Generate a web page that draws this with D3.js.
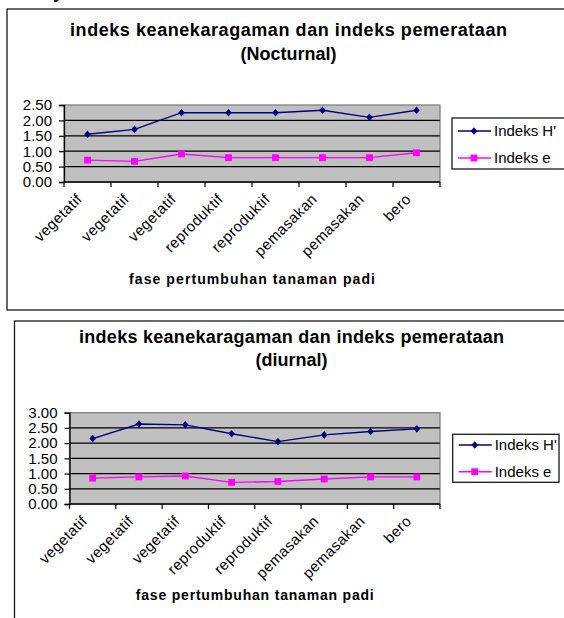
<!DOCTYPE html>
<html><head><meta charset="utf-8">
<script src="https://cdn.jsdelivr.net/npm/d3@7/dist/d3.min.js"></script>
<style>
html,body{margin:0;padding:0;background:#fff;}
svg{display:block;}
text{font-family:Arial,"Liberation Sans",sans-serif;}
</style></head>
<body>
<svg id="c" width="564" height="618"></svg>
<script>
const categories = ["vegetatif","vegetatif","vegetatif","reproduktif","reproduktif","pemasakan","pemasakan","bero"];
const seriesNames = ["Indeks H'", "Indeks e"];
const nocturnalH = [1.55,1.71,2.25,2.25,2.25,2.33,2.10,2.33];
const nocturnalE = [0.71,0.67,0.91,0.79,0.79,0.79,0.79,0.95];
const diurnalH = [2.15,2.63,2.60,2.31,2.05,2.27,2.38,2.47];
const diurnalE = [0.85,0.89,0.92,0.71,0.74,0.82,0.89,0.89];
const nocturnalTicks = [0,0.5,1,1.5,2,2.5];
const diurnalTicks = [0,0.5,1,1.5,2,2.5,3];
const titleLine1 = "indeks keanekaragaman dan indeks pemerataan";
const titleNocturnal = "(Nocturnal)";
const titleDiurnal = "(diurnal)";
const xAxisTitle = "fase pertumbuhan tanaman padi";

const colors = ["#000080", "#ff00ff"];
const svg = d3.select("#c");

// cropped glyph of surrounding document text
svg.append("text").attr("x", 53).attr("y", -2).attr("font-size", 18).attr("font-weight", "bold").text("y");

function drawChart(o) {
  const g = svg.append("g");
  g.append("rect").attr("x", o.box[0]).attr("y", o.box[1]).attr("width", o.box[2]).attr("height", o.box[3])
    .attr("fill", "#fff").attr("stroke", "#1a1a1a").attr("stroke-width", 1.3);

  g.append("text").attr("x", o.titleX).attr("y", o.titleY1).attr("text-anchor", "middle")
    .attr("font-size", 18).attr("font-weight", "bold").attr("textLength", o.titleW).attr("lengthAdjust", "spacing")
    .text(titleLine1);
  g.append("text").attr("x", o.titleX).attr("y", o.titleY2).attr("text-anchor", "middle")
    .attr("font-size", 18).attr("font-weight", "bold").text(o.title2);

  const x = d3.scaleBand().domain(d3.range(categories.length)).range([o.left, o.right]).padding(0);
  const y = d3.scaleLinear().domain([0, d3.max(o.ticks)]).range([o.bottom, o.top]);
  const cx = i => x(i) + x.bandwidth() / 2;

  g.append("rect").attr("x", o.left).attr("y", o.top).attr("width", o.right - o.left).attr("height", o.bottom - o.top)
    .attr("fill", "#c0c0c0").attr("stroke", "#808080").attr("stroke-width", 1.3);

  // gridlines
  g.selectAll(".grid").data(o.ticks.filter(t => t > 0 && t < d3.max(o.ticks))).join("line")
    .attr("x1", o.left).attr("x2", o.right).attr("y1", d => y(d)).attr("y2", d => y(d))
    .attr("stroke", "#000").attr("stroke-width", 1.2);

  // y axis
  const ya = g.append("g").attr("transform", `translate(${o.left},0)`)
    .call(d3.axisLeft(y).tickValues(o.ticks).tickFormat(d3.format(".2f")).tickSize(5).tickPadding(7));
  ya.select(".domain").attr("stroke", "#000").attr("stroke-width", 1.3);
  ya.selectAll(".tick line").attr("stroke", "#000").attr("stroke-width", 1.2);
  ya.selectAll(".tick text").attr("font-size", 15).attr("fill", "#000")
    .attr("font-family", 'Arial,"Liberation Sans",sans-serif');

  // x axis
  const xa = g.append("g").attr("transform", `translate(0,${o.bottom})`);
  xa.append("line").attr("x1", o.left).attr("x2", o.right).attr("stroke", "#000").attr("stroke-width", 1.4);
  const bounds = d3.range(categories.length).map(i => x(i)).concat([o.right]);
  xa.selectAll(".xt").data(bounds).join("line").attr("x1", d => d).attr("x2", d => d)
    .attr("y1", 0).attr("y2", 5).attr("stroke", "#000").attr("stroke-width", 1.2);
  xa.selectAll(".xl").data(categories).join("text")
    .attr("transform", (d, i) => `translate(${cx(i) - 4.5},18) rotate(-45)`)
    .attr("text-anchor", "end").attr("font-size", 15).attr("letter-spacing", 0.4).text(d => d);

  g.append("text").attr("x", (o.left + o.right) / 2).attr("y", o.axisTitleY).attr("text-anchor", "middle")
    .attr("font-size", 14).attr("font-weight", "bold").attr("textLength", o.axisTitleW).attr("lengthAdjust", "spacing")
    .text(xAxisTitle);

  // series
  const series = [o.h, o.e];
  const line = d3.line().x((d, i) => cx(i)).y(d => y(d));
  series.forEach((vals, si) => {
    g.append("path").datum(vals).attr("d", line).attr("fill", "none")
      .attr("stroke", colors[si]).attr("stroke-width", 1.4);
  });
  g.selectAll(".dh").data(o.h).join("path")
    .attr("transform", (d, i) => `translate(${cx(i)},${y(d)})`)
    .attr("d", "M0,-3.8L3.3,0L0,3.8L-3.3,0Z").attr("fill", colors[0]);
  g.selectAll(".de").data(o.e).join("rect")
    .attr("x", (d, i) => cx(i) - 3.4).attr("y", d => y(d) - 3.4).attr("width", 6.8).attr("height", 6.8)
    .attr("fill", colors[1]);

  // legend
  const L = o.legend;
  g.append("rect").attr("x", L.x).attr("y", L.y).attr("width", L.w).attr("height", L.h)
    .attr("fill", "#fff").attr("stroke", "#1a1a1a").attr("stroke-width", 1.3);
  seriesNames.forEach((name, si) => {
    const ry = L.rows[si];
    g.append("line").attr("x1", L.x + 6).attr("x2", L.x + 39).attr("y1", ry).attr("y2", ry)
      .attr("stroke", colors[si]).attr("stroke-width", 1.4);
    const mx = L.x + 22;
    if (si === 0) {
      g.append("path").attr("transform", `translate(${mx},${ry})`).attr("d", "M0,-3.8L3.3,0L0,3.8L-3.3,0Z").attr("fill", colors[0]);
    } else {
      g.append("rect").attr("x", mx - 3.4).attr("y", ry - 3.4).attr("width", 6.8).attr("height", 6.8).attr("fill", colors[1]);
    }
    g.append("text").attr("x", L.x + 42).attr("y", ry).attr("dy", "0.36em").attr("font-size", 15).text(name);
  });
}

drawChart({
  box: [7, 9, 570, 301], title2: titleNocturnal, titleX: 288.5, titleY1: 36, titleY2: 60, titleW: 437,
  left: 64, right: 440, top: 105, bottom: 182, ticks: nocturnalTicks,
  h: nocturnalH, e: nocturnalE, axisTitleY: 284, axisTitleW: 246,
  legend: {x: 452, y: 118, w: 120, h: 51, rows: [131, 158]}
});
drawChart({
  box: [14.5, 321, 570, 320], title2: titleDiurnal, titleX: 291.5, titleY1: 343, titleY2: 366, titleW: 425,
  left: 69.5, right: 440, top: 412.7, bottom: 504, ticks: diurnalTicks,
  h: diurnalH, e: diurnalE, axisTitleY: 600, axisTitleW: 238,
  legend: {x: 452.7, y: 434.3, w: 106.3, h: 48, rows: [445, 471.7]}
});
</script>
</body></html>
